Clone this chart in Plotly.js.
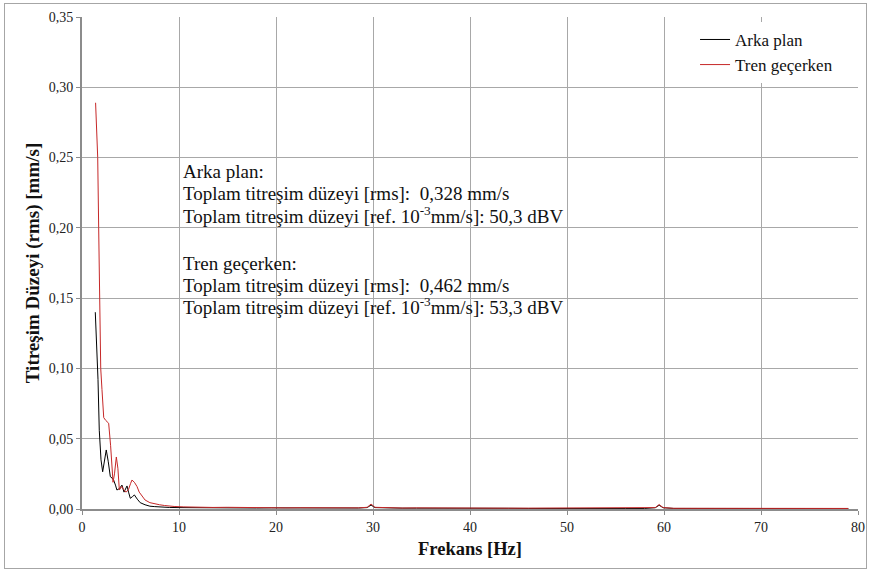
<!DOCTYPE html>
<html>
<head>
<meta charset="utf-8">
<script src="https://cdn.plot.ly/plotly-3.0.1.min.js"></script>
<style>
  html, body { margin: 0; padding: 0; background: #fff; }
  #wrap { position: relative; width: 870px; height: 572px; }
  #chart { width: 870px; height: 572px; }
  #frame { position: absolute; left: 4px; top: 3px; width: 861px; height: 564px;
           border: 1px solid #a6a6a6; pointer-events: none; }
</style>
</head>
<body>
<div id="wrap">
  <div id="chart"></div>
  <div id="frame"></div>
</div>
<script>
// Frekans spektrumu: arka plan ve tren geçişi sırasında ölçülen titreşim düzeyleri
const trenFrekans = [1.40, 1.50, 1.62, 1.72, 1.82, 1.93, 2.06, 2.24, 2.45, 2.75, 2.95, 3.10, 3.20, 3.35, 3.54,
  3.70, 3.85, 4.10, 4.30, 4.55, 4.80, 5.00, 5.15, 5.40, 5.67, 5.90, 6.20, 6.50, 7.00, 7.50, 8.00, 8.50, 9.00,
  9.50, 10.5, 11.5, 12.5, 13.5, 15.0, 16.5, 18.0, 19.5, 21.0, 22.5, 24.0, 25.5, 27.0, 28.5, 29.4, 29.8, 30.2,
  31.5, 33.0, 34.5, 36.0, 38.0, 40.0, 42.0, 44.0, 46.0, 48.0, 50.0, 52.0, 54.0, 56.0, 58.0, 59.1, 59.5, 59.9,
  61.0, 63.0, 65.0, 67.0, 69.0, 71.0, 73.0, 75.0, 77.0, 79.0];
const trenDeger = [0.289, 0.275, 0.250, 0.200, 0.150, 0.100, 0.085, 0.065, 0.063, 0.061, 0.045, 0.023, 0.019,
  0.025, 0.037, 0.029, 0.0135, 0.016, 0.0135, 0.012, 0.014, 0.018, 0.0206, 0.019, 0.016, 0.012, 0.009, 0.0064,
  0.0045, 0.0035, 0.0030, 0.0025, 0.0020, 0.0018, 0.0015, 0.0013, 0.0012, 0.0011, 0.0012, 0.0010, 0.0009,
  0.0009, 0.0008, 0.0009, 0.0008, 0.0008, 0.0007, 0.0008, 0.0012, 0.0035, 0.0012, 0.0008, 0.0007, 0.0008,
  0.0007, 0.0007, 0.0006, 0.0007, 0.0006, 0.0006, 0.0006, 0.0006, 0.0005, 0.0006, 0.0005, 0.0005, 0.0010,
  0.0032, 0.0010, 0.0005, 0.0005, 0.0005, 0.0004, 0.0005, 0.0004, 0.0004, 0.0004, 0.0004, 0.0004];

const arkaFrekans = [1.37, 1.50, 1.65, 1.78, 1.96, 2.13, 2.30, 2.50, 2.70, 2.92, 3.10, 3.26, 3.45, 3.60, 3.85,
  4.12, 4.33, 4.50, 4.64, 4.80, 4.98, 5.20, 5.40, 5.70, 6.00, 6.50, 7.00, 7.50, 8.00, 8.50, 9.00, 10.0, 11.0,
  12.0, 13.5, 15.0, 16.5, 18.0, 19.5, 21.0, 22.5, 24.0, 25.5, 27.0, 28.5, 29.4, 29.8, 30.2, 31.5, 33.0, 34.5,
  36.0, 38.0, 40.0, 42.0, 44.0, 46.0, 48.0, 50.0, 52.0, 54.0, 56.0, 58.0, 59.1, 59.5, 59.9, 61.0, 63.0, 65.0,
  67.0, 69.0, 71.0, 73.0, 75.0, 77.0, 79.0];
const arkaDeger = [0.140, 0.118, 0.092, 0.056, 0.035, 0.0265, 0.035, 0.042, 0.034, 0.023, 0.022, 0.0206,
  0.017, 0.0135, 0.0145, 0.017, 0.012, 0.014, 0.0164, 0.012, 0.0076, 0.0088, 0.0100, 0.0070, 0.0045, 0.0030,
  0.0020, 0.0017, 0.0014, 0.0012, 0.0011, 0.0010, 0.0009, 0.0009, 0.0008, 0.0009, 0.0008, 0.0007, 0.0008,
  0.0007, 0.0007, 0.0007, 0.0006, 0.0006, 0.0007, 0.0010, 0.0028, 0.0010, 0.0006, 0.0006, 0.0006, 0.0005,
  0.0005, 0.0005, 0.0005, 0.0005, 0.0004, 0.0005, 0.0004, 0.0004, 0.0004, 0.0004, 0.0004, 0.0009, 0.0027,
  0.0009, 0.0004, 0.0004, 0.0004, 0.0003, 0.0004, 0.0003, 0.0003, 0.0003, 0.0003, 0.0003];

const seriAdlari = ['Arka plan', 'Tren geçerken'];
const xTikler = [0, 10, 20, 30, 40, 50, 60, 70, 80];
const yTikler = [0, 0.05, 0.10, 0.15, 0.20, 0.25, 0.30, 0.35];

const bilgiSatirlari = [
  'Arka plan:',
  'Toplam titreşim düzeyi [rms]:  0,328 mm/s',
  'Toplam titreşim düzeyi [ref. 10<sup>-3</sup>mm/s]: 50,3 dBV',
  'Tren geçerken:',
  'Toplam titreşim düzeyi [rms]:  0,462 mm/s',
  'Toplam titreşim düzeyi [ref. 10<sup>-3</sup>mm/s]: 53,3 dBV'
];
// satırların kâğıt koordinatındaki dikey konumları (üstteki blok, boşluk, alttaki blok)
const bilgiKonumY = [0.685, 0.641, 0.598, 0.500, 0.455, 0.413];

const serif = '"Liberation Serif", "Times New Roman", serif';

const traces = [
  { x: arkaFrekans, y: arkaDeger, name: seriAdlari[0], legendgroup: 'a', type: 'scatter', mode: 'lines',
    line: { color: '#000000', width: 1 } },
  { x: trenFrekans, y: trenDeger, name: seriAdlari[1], legendgroup: 'b', type: 'scatter', mode: 'lines',
    line: { color: '#c62828', width: 1 } }
];

const layout = {
  width: 870, height: 572,
  margin: { l: 82, r: 12, t: 17, b: 63 },
  paper_bgcolor: '#ffffff', plot_bgcolor: '#ffffff',
  separators: ',.',
  font: { family: serif, color: '#222', size: 14 },
  showlegend: true,
  legend: {
    x: 0.79, y: 0.99, xanchor: 'left', yanchor: 'top',
    bgcolor: '#ffffff', borderwidth: 0,
    traceorder: 'grouped', tracegroupgap: 0,
    font: { family: serif, size: 17, color: '#111' }
  },
  xaxis: {
    range: [0, 80], tickvals: xTikler, ticktext: xTikler.map(String),
    showgrid: true, gridcolor: '#a8a8a8', gridwidth: 1,
    showline: true, linecolor: '#8c8c8c', linewidth: 2,
    ticks: 'outside', ticklen: 4, tickcolor: '#8c8c8c',
    zeroline: false, tickfont: { family: serif, size: 14, color: '#222' },
    title: { text: '<b>Frekans [Hz]</b>', font: { family: serif, size: 18.5, color: '#111' }, standoff: 8 }
  },
  yaxis: {
    range: [0, 0.35], tickvals: yTikler, tickformat: '.2f',
    showgrid: true, gridcolor: '#a8a8a8', gridwidth: 1,
    showline: true, linecolor: '#8c8c8c', linewidth: 2,
    ticks: 'outside', ticklen: 4, tickcolor: '#8c8c8c',
    zeroline: false, tickfont: { family: serif, size: 14, color: '#222' },
    title: { text: '<b>Titreşim Düzeyi (rms) [mm/s]</b>', font: { family: serif, size: 19, color: '#111' }, standoff: 4 }
  },
  shapes: [
    { type: 'rect', xref: 'paper', yref: 'paper', x0: 0.1186, x1: 0.72, y0: 0.327, y1: 0.780,
      fillcolor: '#ffffff', line: { width: 0 }, layer: 'between' }
  ],
  annotations: bilgiSatirlari.map((t, i) => ({
    xref: 'paper', yref: 'paper', x: 0.127, y: bilgiKonumY[i], xanchor: 'left', yanchor: 'middle',
    align: 'left', showarrow: false, text: t,
    font: { family: serif, size: 19, color: '#111' }
  }))
};

Plotly.newPlot('chart', traces, layout, { displayModeBar: false, staticPlot: true });
</script>
</body>
</html>
